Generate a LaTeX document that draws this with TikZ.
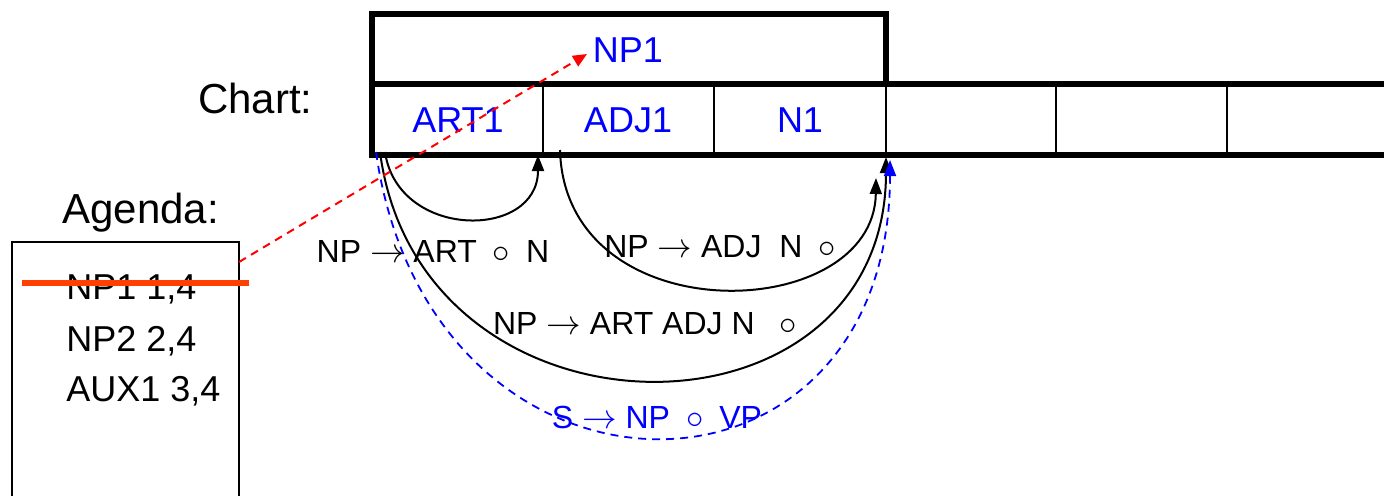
\documentclass[tikz,border=0pt]{standalone}
\usepackage{fontspec}
\setmainfont{Liberation Sans}
\usetikzlibrary{arrows.meta, positioning, calc}

\begin{document}
\begin{tikzpicture}[
    x=0.5pt, y=0.5pt,
    heading/.style={inner sep=0pt, font=\fontsize{21}{25}\selectfont},
    celltext/.style={inner sep=0pt, anchor=base, text=blue, font=\fontsize{18}{22}\selectfont},
    itemtext/.style={inner sep=0pt, anchor=base west, font=\fontsize{18}{22}\selectfont},
    rulelabel/.style={inner sep=0pt, anchor=base, font=\fontsize{16}{19}\selectfont},
    thickline/.style={line width=3pt},
    thinline/.style={line width=1.2pt},
    parsearc/.style={line width=1pt, -{Triangle[length=8pt, width=6pt]}},
    bluearc/.style={line width=0.9pt, blue, dash pattern=on 4pt off 3pt, -{Triangle[length=8pt, width=6pt]}},
    redarrow/.style={line width=1pt, red, dash pattern=on 4pt off 3pt, -{Triangle[length=7pt, width=6pt]}}
]
    \useasboundingbox (0,0) rectangle (1384,495);

    % Headings
    \node [heading, anchor=base east] (chart) at (313,382) {Chart:};
    \node [heading, anchor=base west] (agenda) at (62,272) {Agenda:};

    % Chart grid
    \draw[thickline] (372,411) rectangle (886,481);
    \draw[thickline] (1390,411) -- (372,411) -- (372,340) -- (1390,340);
    \foreach \x in {543,714,1056,1227}
        \draw[thinline] (\x,340) -- (\x,411);
    \draw[thinline] (886,340) -- (886,411);

    % Chart entries
    \node [celltext] (np1) at (628,433) {NP1};
    \node [celltext] (art1) at (458,363) {ART1};
    \node [celltext] (adj1) at (628,363) {ADJ1};
    \node [celltext] (n1) at (800,363) {N1};

    % Agenda box and items
    \draw[line width=1pt] (12,-10) -- (12,253) -- (239,253) -- (239,-10);
    \node [itemtext] (item1) at (66,196) {NP1 1,4};
    \node [itemtext] (item2) at (66,144) {NP2 2,4};
    \node [itemtext] (item3) at (66,94) {AUX1 3,4};
    \draw[line width=3pt, color={rgb,255:red,255;green,64;blue,0}] (22,212) -- (249,212);

    % Arc end points
    \coordinate (artstart) at (385,343);
    \coordinate (artend) at (538,340);
    \coordinate (adjstart) at (560,345);
    \coordinate (adjend) at (876,317);
    \coordinate (npstart) at (380,343);
    \coordinate (npend) at (886,338);
    \coordinate (sstart) at (376,343);
    \coordinate (send) at (890,335);
    \coordinate (agendaout) at (239,233);
    \coordinate (np1in) at (587,441);

    % Active arcs
    \draw[parsearc] (artstart) .. controls +(13,-88) and +(0,-85) .. (artend);
    \draw[parsearc] (adjstart) .. controls +(5,-185) and +(-2,-147) .. (adjend);
    \draw[parsearc] (npstart) .. controls +(40,-303) and +(0,-298) .. (npend);
    \draw[bluearc] (sstart) .. controls +(54,-379) and +(0,-371) .. (send);

    % Move NP1 from agenda to chart
    \draw[redarrow] (agendaout) -- (np1in);

    % Rule labels
    \node [rulelabel] (rule1) at (433,233) {NP $\rightarrow$ ART\enspace$\circ$\enspace N};
    \node [rulelabel] (rule2) at (720,238) {NP $\rightarrow$ ADJ\ \ N\enspace$\circ$};
    \node [rulelabel] (rule3) at (645,161) {NP $\rightarrow$ ART ADJ N\enspace\ $\circ$};
    \node [rulelabel, text=blue] (rule4) at (657,67) {S $\rightarrow$ NP\enspace$\circ$\enspace VP};
\end{tikzpicture}
\end{document}
